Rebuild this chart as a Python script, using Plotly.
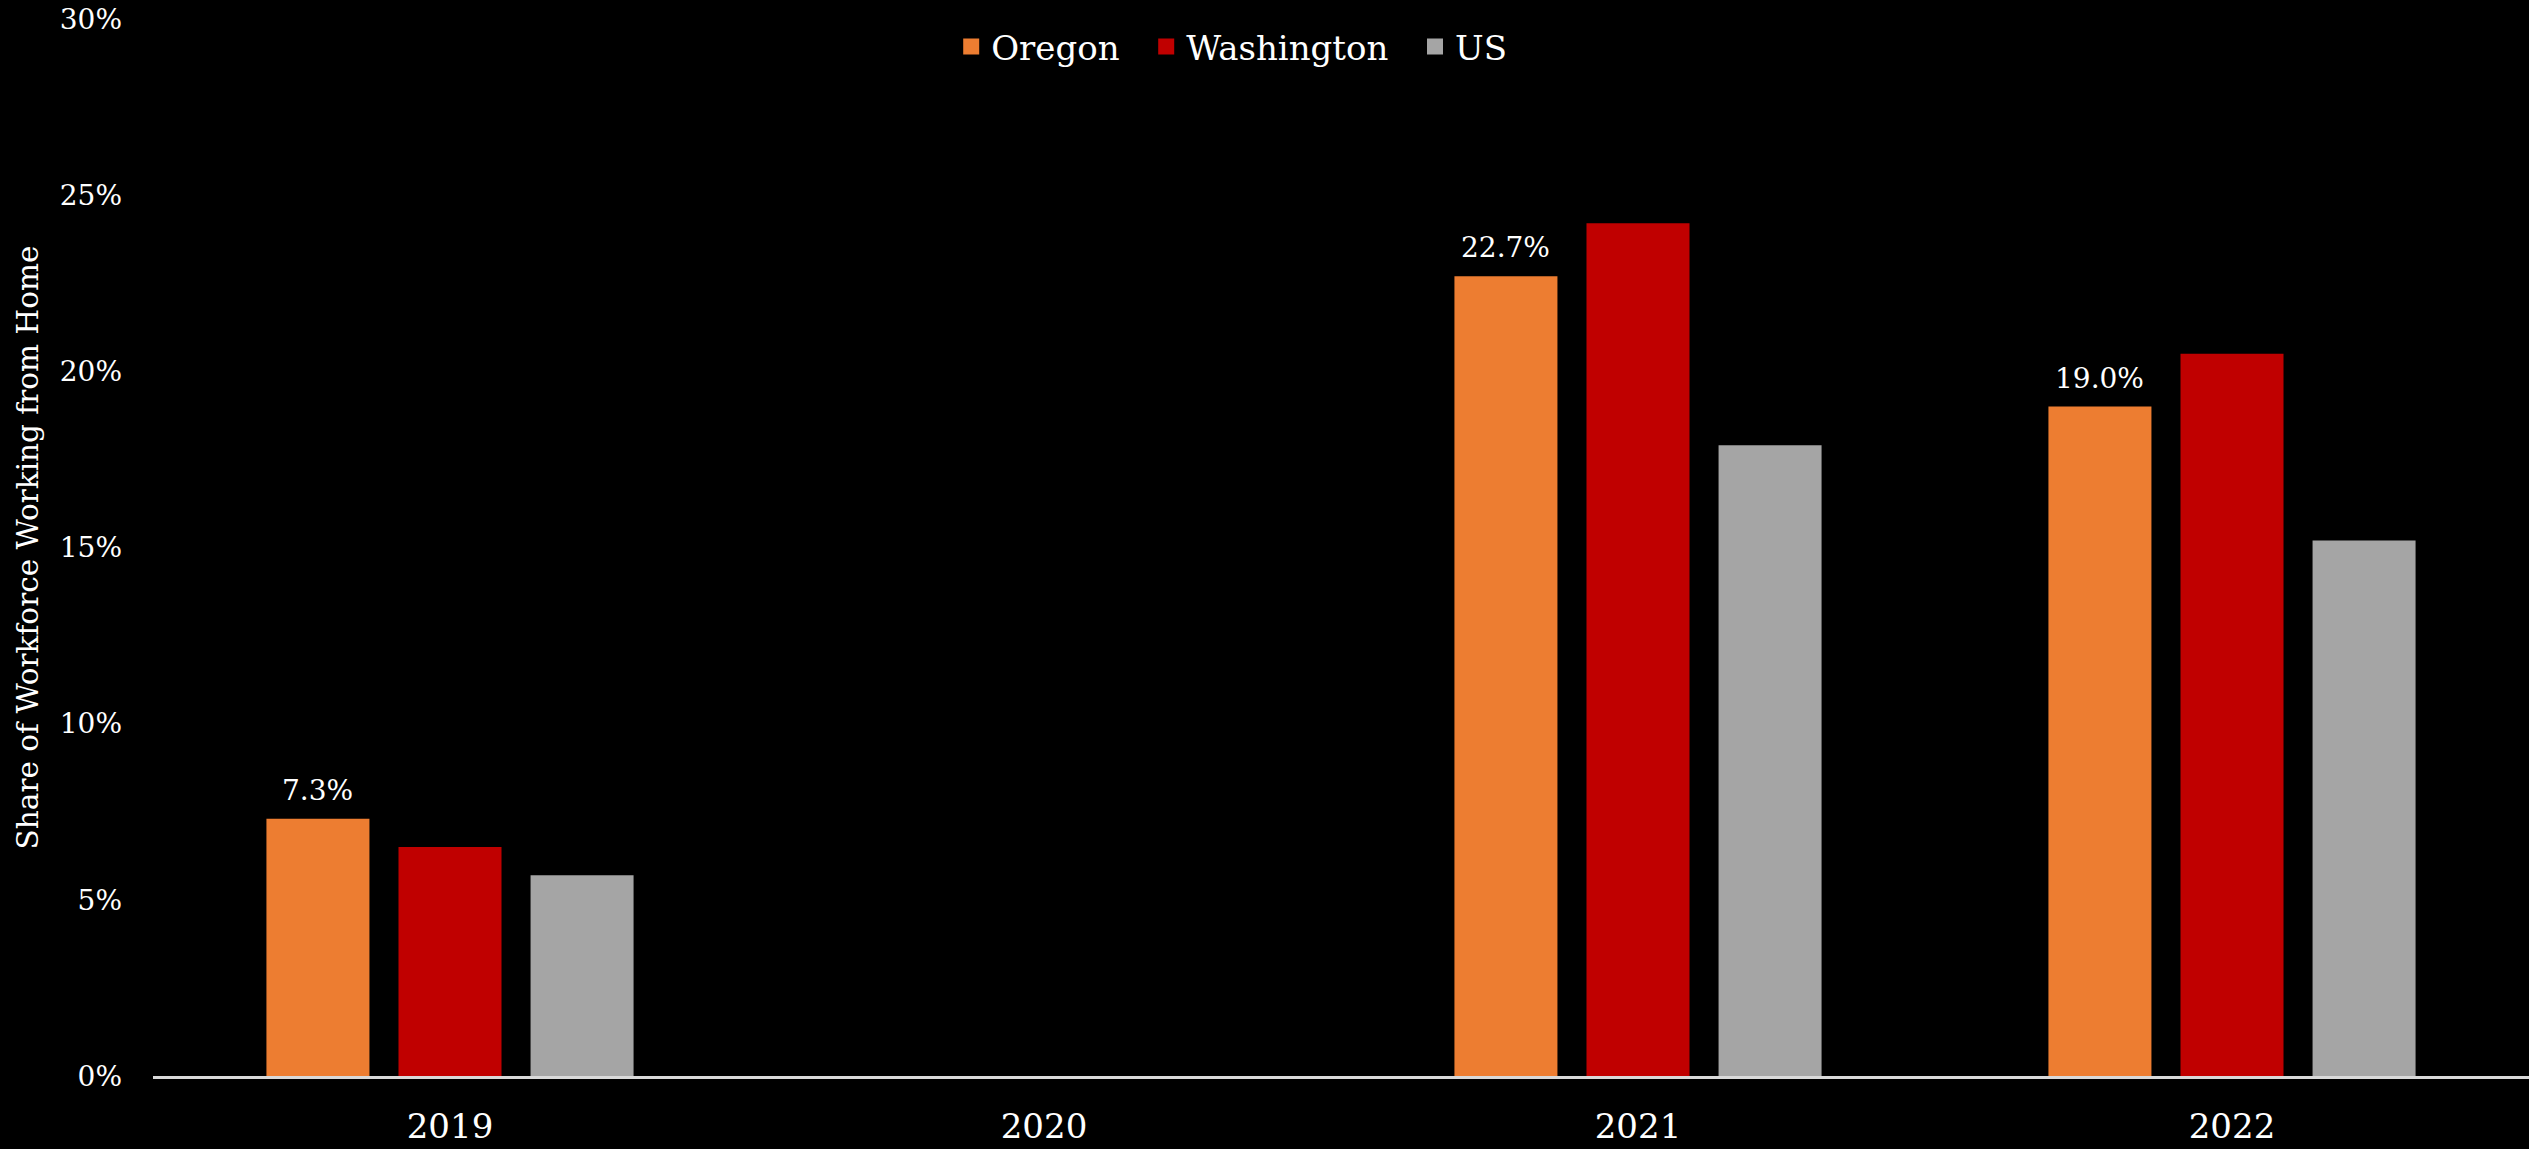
import plotly.graph_objects as go

years = ["2019", "2020", "2021", "2022"]
oregon = [7.3, None, 22.7, 19.0]
washington = [6.5, None, 24.2, 20.5]
us = [5.7, None, 17.9, 15.2]
oregon_labels = ["7.3%", "", "22.7%", "19.0%"]
series = [("Oregon", oregon, "#ED7D31"), ("Washington", washington, "#C00000"), ("US", us, "#A5A5A5")]

FONT = "DejaVu Serif"
NB = "\u00a0"

fig = go.Figure()
for name, vals, col in series:
    fig.add_trace(go.Bar(name=name, x=years, y=vals, showlegend=False,
                         marker=dict(color=col, line=dict(width=0))))
# legend entries with larger square swatches
for k, (name, vals, col) in enumerate(series):
    fig.add_trace(go.Scatter(name=name + (NB * 2 if k < len(series) - 1 else ""), x=[None], y=[None],
                             mode="markers", showlegend=True, hoverinfo="skip",
                             marker=dict(symbol="square", size=16, color=col)))

# category axis: annotation x given as the category index of each year
slot_px = (2529 - 153) / len(years) * (1 - 0.333) / 3
for i, (val, lab) in enumerate(zip(oregon, oregon_labels)):
    if val is None or not lab:
        continue
    fig.add_annotation(x=i, y=val, text=lab, showarrow=False, xref="x", yref="y",
                       xanchor="center", yanchor="bottom", xshift=-slot_px,
                       yshift=10, font=dict(size=28, color="white", family=FONT))

fig.update_layout(
    width=2529, height=1149,
    paper_bgcolor="black", plot_bgcolor="black",
    font=dict(family=FONT, color="white", size=28),
    barmode="group", bargap=0.333, bargroupgap=0.22,
    margin=dict(l=153, r=0, t=19, b=73),
    showlegend=True,
    legend=dict(orientation="h", x=0.454, xanchor="center", y=0.9735, yanchor="middle",
                font=dict(size=34, color="white", family=FONT), bgcolor="rgba(0,0,0,0)",
                traceorder="normal", itemsizing="trace", itemwidth=30),
)
fig.update_xaxes(type="category", categoryorder="array", categoryarray=years,
                 range=[-0.5, len(years) - 0.5],
                 showline=True, linecolor="#D9D9D9", linewidth=3, showgrid=False,
                 ticks="", tickfont=dict(size=34, color="white"), ticklabelstandoff=18)
fig.update_yaxes(range=[0, 30], dtick=5, ticksuffix="%", showgrid=False, zeroline=False,
                 showline=False, tickfont=dict(size=28, color="white"), ticklabelstandoff=30,
                 title=dict(text="Share of Workforce Working from Home", font=dict(size=29.5, color="white"),
                            standoff=12))

fig.write_html("out.html", config={"displayModeBar": False},
               post_script="document.body.style.margin='0';document.body.style.background='black';")
